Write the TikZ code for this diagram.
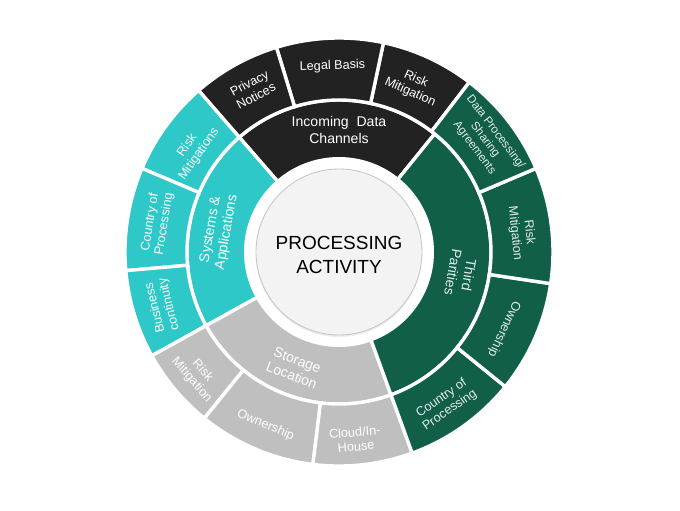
\documentclass[tikz,border=0pt]{standalone}
\usepackage{fontspec}
\setmainfont{Liberation Sans}
\usetikzlibrary{shadows}

\definecolor{chanblack}{HTML}{222222}
\definecolor{systeal}{HTML}{2DC8C7}
\definecolor{partygreen}{HTML}{115F49}
\definecolor{storegray}{HTML}{BFBFBF}
\definecolor{corefill}{HTML}{F3F3F3}

\begin{document}
\begin{tikzpicture}[
    segment/.style={draw=white, line width=2.4pt, line join=miter},
    seglabel/.style={font=\fontsize{9}{10.2}\selectfont, text=white, align=center, inner sep=0pt},
    ringlabel/.style={font=\fontsize{10}{11.5}\selectfont, text=white, align=center, inner sep=0pt}
]
    \useasboundingbox (-8.475,-6.45) rectangle (8.525,6.3);

    % Inner ring (radius 2.3 to 3.8)
    % Incoming Data Channels (51 to 131) - black
    \filldraw[segment, fill=chanblack] (51:2.3) arc (51:131:2.3) -- (131:3.8) arc (131:51:3.8) -- cycle;
    % Systems & Applications (131 to 209) - teal
    \filldraw[segment, fill=systeal] (131:2.3) arc (131:209:2.3) -- (209:3.8) arc (209:131:3.8) -- cycle;
    % Storage Location (209 to 290) - gray
    \filldraw[segment, fill=storegray] (209:2.3) arc (209:290:2.3) -- (290:3.8) arc (290:209:3.8) -- cycle;
    % Third Parities (290 to 411) - green
    \filldraw[segment, fill=partygreen] (290:2.3) arc (290:411:2.3) -- (411:3.8) arc (411:290:3.8) -- cycle;

    % Outer ring (radius 3.8 to 5.35)
    % black: 52.5 / 78 / 107 / 131
    \filldraw[segment, fill=chanblack] (52.5:3.8) arc (52.5:78:3.8) -- (78:5.35) arc (78:52.5:5.35) -- cycle;
    \filldraw[segment, fill=chanblack] (78:3.8) arc (78:107:3.8) -- (107:5.35) arc (107:78:5.35) -- cycle;
    \filldraw[segment, fill=chanblack] (107:3.8) arc (107:131:3.8) -- (131:5.35) arc (131:107:5.35) -- cycle;
    % teal: 131 / 157 / 185 / 209
    \filldraw[segment, fill=systeal] (131:3.8) arc (131:157:3.8) -- (157:5.35) arc (157:131:5.35) -- cycle;
    \filldraw[segment, fill=systeal] (157:3.8) arc (157:185:3.8) -- (185:5.35) arc (185:157:5.35) -- cycle;
    \filldraw[segment, fill=systeal] (185:3.8) arc (185:209:3.8) -- (209:5.35) arc (209:185:5.35) -- cycle;
    % gray: 209 / 231 / 263 / 290
    \filldraw[segment, fill=storegray] (209:3.8) arc (209:231:3.8) -- (231:5.35) arc (231:209:5.35) -- cycle;
    \filldraw[segment, fill=storegray] (231:3.8) arc (231:263:3.8) -- (263:5.35) arc (263:231:5.35) -- cycle;
    \filldraw[segment, fill=storegray] (263:3.8) arc (263:290:3.8) -- (290:5.35) arc (290:263:5.35) -- cycle;
    % green: 290 / 321 / 351.5 / 383 / 412.5
    \filldraw[segment, fill=partygreen] (290:3.8) arc (290:321:3.8) -- (321:5.35) arc (321:290:5.35) -- cycle;
    \filldraw[segment, fill=partygreen] (321:3.8) arc (321:351.5:3.8) -- (351.5:5.35) arc (351.5:321:5.35) -- cycle;
    \filldraw[segment, fill=partygreen] (351.5:3.8) arc (351.5:383:3.8) -- (383:5.35) arc (383:351.5:5.35) -- cycle;
    \filldraw[segment, fill=partygreen] (383:3.8) arc (383:412.5:3.8) -- (412.5:5.35) arc (412.5:383:5.35) -- cycle;

    % Centre disc
    \fill[white] (0,0) circle (2.375);
    \filldraw[fill=corefill, draw=gray!45, line width=0.6pt,
        drop shadow={opacity=0.15, shadow xshift=0pt, shadow yshift=-0.05cm}] (0,0) circle (2.075);
    \node[font=\fontsize{13.5}{17}\selectfont, align=center, inner sep=0pt] (activity) at (0,-0.07) {PROCESSING\\ACTIVITY};

    % Inner ring labels
    \node[ringlabel] (incoming) at (90:3.05) {Incoming\ \ Data\\Channels};
    \node[ringlabel, rotate=80] (systems) at (170:3.05) {Systems \&\\Applications};
    \node[ringlabel, rotate=-21] (storage) at (249:3.1) {Storage\\Location};
    \node[ringlabel, rotate=-100, text=white!88!partygreen] (parties) at (350:3.1) {Third\\Parities};

    % Outer ring labels - black
    \node[seglabel, rotate=28] (privacy) at (118:4.6) {Privacy\\Notices};
    \node[seglabel, rotate=2] (legal) at (92:4.65) {Legal Basis};
    \node[seglabel, rotate=-24] (blackrisk) at (66:4.55) {Risk\\Mitigation};
    % teal
    \node[seglabel, rotate=55] (tealrisk) at (145:4.45) {Risk\\Mitigations};
    \node[seglabel, rotate=81] (tealcountry) at (171:4.6) {Country of\\Processing};
    \node[seglabel, rotate=104] (business) at (197:4.62) {Business\\continuity};
    % gray
    \node[seglabel, rotate=-49] (grayrisk) at (221:4.7) {Risk\\Mitigation};
    \node[seglabel, rotate=-23] (grayowner) at (247:4.7) {Ownership};
    \node[seglabel, rotate=5] (cloud) at (275:4.7) {Cloud/In-\\House};
    % green
    \node[seglabel, rotate=35, text=white!88!partygreen] (greencountry) at (305:4.65) {Country of\\Processing};
    \node[seglabel, rotate=-115, text=white!88!partygreen] (greenowner) at (335:4.55) {Ownership};
    \node[seglabel, rotate=-84, text=white!88!partygreen] (greenrisk) at (6:4.6) {Risk\\Mitigation};
    \node[seglabel, rotate=-53, font=\fontsize{8.3}{9.4}\selectfont, text=white!88!partygreen] (sharing) at (37.5:4.6) {Data Processing/\\Sharing\\Agreements};
\end{tikzpicture}
\end{document}
